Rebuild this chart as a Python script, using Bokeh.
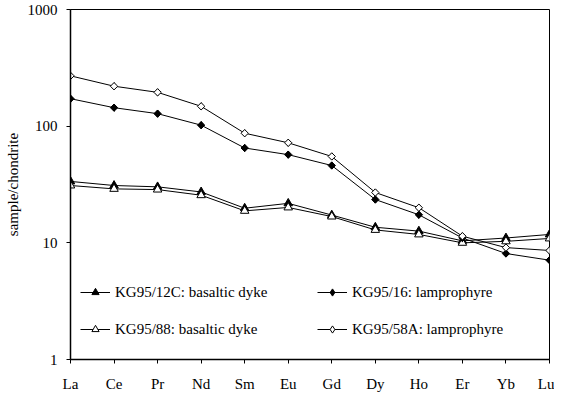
import math
from bokeh.plotting import figure
from bokeh.models import Range1d, FixedTicker, PrintfTickFormatter, Legend, LegendItem
from bokeh.embed import file_html
from bokeh.resources import INLINE

elements = ["La", "Ce", "Pr", "Nd", "Sm", "Eu", "Gd", "Dy", "Ho", "Er", "Yb", "Lu"]
kg95_12c = [33.6, 31.0, 30.2, 27.3, 19.8, 21.8, 17.3, 13.6, 12.6, 10.4, 11.0, 11.8]
kg95_88 = [31.0, 29.0, 28.6, 25.6, 18.8, 20.1, 16.8, 12.9, 11.8, 10.0, 10.3, 10.9]
kg95_16 = [172, 144, 128, 102, 65, 57, 46, 23.5, 17.4, 11.0, 8.1, 7.1]
kg95_58a = [270, 220, 195, 148, 87, 72, 55, 27, 20, 11.4, 9.1, 8.6]
y_ticks = [1, 10, 100, 1000]

FONT = "Liberation Serif"
xs = list(range(len(elements)))

p = figure(width=554, height=394, output_backend="svg", toolbar_location=None,
           y_axis_type="log", x_range=Range1d(0, len(elements) - 1),
           y_range=Range1d(1, 1000),
           min_border_left=70, min_border_right=5, min_border_top=9, min_border_bottom=34)

p.background_fill_color = "white"
p.border_fill_color = "white"
p.outline_line_color = "black"
p.outline_line_width = 1
p.grid.visible = False

p.xaxis.ticker = FixedTicker(ticks=xs, minor_ticks=[])
p.xaxis.major_label_overrides = {i: e for i, e in enumerate(elements)}
p.yaxis.ticker = FixedTicker(ticks=y_ticks, minor_ticks=[])
p.yaxis.formatter = PrintfTickFormatter(format="%d")
p.yaxis.axis_label = "sample/chondrite"

for ax in (p.xaxis[0], p.yaxis[0]):
    ax.axis_line_color = "black"
    ax.axis_line_width = 1.5
    ax.major_tick_line_color = "black"
    ax.major_tick_in = 0
    ax.major_tick_out = 4
    ax.minor_tick_line_color = None
    ax.major_label_text_font = FONT
    ax.major_label_text_font_size = "15px"
    ax.major_label_text_color = "black"
    ax.axis_label_text_font = FONT
    ax.axis_label_text_font_style = "normal"
    ax.axis_label_text_font_size = "15px"
    ax.axis_label_text_color = "black"
p.xaxis.major_label_standoff = 12
p.yaxis.major_label_standoff = 9
p.yaxis.axis_label_standoff = 4

series = [
    (kg95_12c, "triangle", "black", "KG95/12C: basaltic dyke"),
    (kg95_88, "triangle", "white", "KG95/88: basaltic dyke"),
    (kg95_16, "diamond", "black", "KG95/16: lamprophyre"),
    (kg95_58a, "diamond", "white", "KG95/58A: lamprophyre"),
]

items = []
for vals, marker, fill, label in series:
    lr = p.line(xs, vals, line_color="black", line_width=1)
    if marker == "diamond":
        # plain diamond (used for the legend glyph), covered by the rotated square
        lg_sr = p.scatter(xs, vals, marker="diamond", size=7,
                          fill_color=fill, line_color="black", line_width=1)
        p.scatter(xs, vals, marker="square", angle=math.pi / 4, size=5.2,
                  fill_color=fill, line_color="black", line_width=1)
    else:
        lg_sr = p.scatter(xs, vals, marker="triangle", size=8.5,
                          fill_color=fill, line_color="black", line_width=1)
    items.append(LegendItem(label=label, renderers=[lr, lg_sr]))


def make_legend(its, loc):
    return Legend(items=its, location=loc, orientation="vertical",
                  padding=0, margin=0, spacing=19,
                  glyph_width=30, glyph_height=18, label_height=18,
                  label_standoff=5, border_line_color=None,
                  background_fill_alpha=0,
                  label_text_font=FONT, label_text_font_size="15px",
                  label_text_color="black")


p.add_layout(make_legend([items[0], items[1]], (10, 21)))
p.add_layout(make_legend([items[2], items[3]], (247, 21)))

open("out.html", "w").write(file_html(p, INLINE))
